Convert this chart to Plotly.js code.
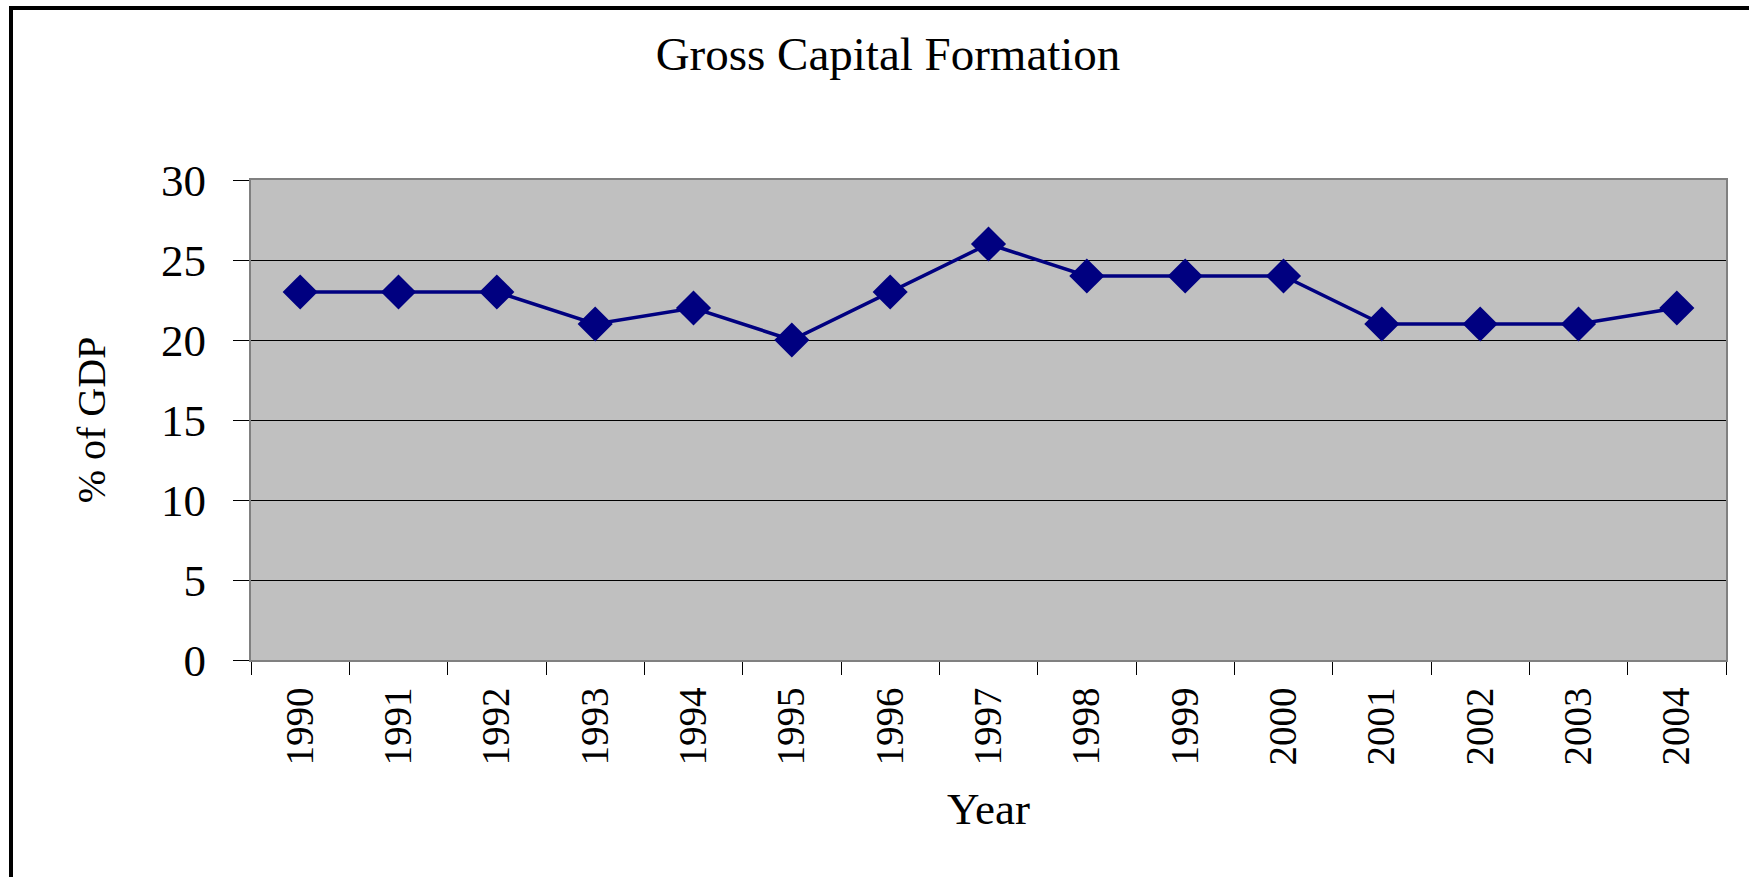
<!DOCTYPE html>
<html>
<head>
<meta charset="utf-8">
<script src="https://cdn.plot.ly/plotly-3.0.1.min.js"></script>
<style>
  html, body { margin: 0; padding: 0; background: #ffffff; }
  #chart { width: 1749px; height: 877px; }
</style>
</head>
<body>
<div id="chart"></div>
<script>
const years = ["1990","1991","1992","1993","1994","1995","1996","1997","1998","1999","2000","2001","2002","2003","2004"];
const gcfPercentGDP = [23, 23, 23, 21, 22, 20, 23, 26, 24, 24, 24, 21, 21, 21, 22];
const yTickValues = [0, 5, 10, 15, 20, 25, 30];

const serif = '"Liberation Serif", "Times New Roman", Times, serif';

const L = 251, R = 1726, T = 180, B = 660, W = 1749, H = 877;
const pw = R - L, ph = B - T;
const px = v => (v - L) / pw;
const py = v => (B - v) / ph;

const trace = {
  type: 'scatter',
  mode: 'lines+markers',
  x: years,
  y: gcfPercentGDP,
  line: { color: '#000080', width: 3.5 },
  marker: { symbol: 'diamond', size: 27, color: '#000080' },
  hoverinfo: 'x+y',
  showlegend: false
};

const layout = {
  width: W,
  height: H,
  margin: { l: L, r: W - R, t: T, b: H - B, pad: 0 },
  paper_bgcolor: '#ffffff',
  plot_bgcolor: '#c0c0c0',
  font: { family: serif, color: '#000000' },
  title: {
    text: 'Gross Capital Formation',
    font: { family: serif, size: 47, color: '#000000' },
    x: 888 / W, xanchor: 'center', xref: 'container',
    y: 1 - 54 / H, yanchor: 'middle', yref: 'container'
  },
  xaxis: {
    type: 'category',
    range: [-0.5, years.length - 0.5],
    tickson: 'boundaries',
    ticks: 'outside', ticklen: 13, tickwidth: 1, tickcolor: '#000000',
    tickangle: -90,
    ticklabelstandoff: 10,
    tickfont: { family: serif, size: 39, color: '#000000' },
    showgrid: false,
    showline: true, linecolor: '#808080', linewidth: 2, mirror: true,
    zeroline: false,
    automargin: false,
    title: { text: 'Year', font: { family: serif, size: 45, color: '#000000' }, standoff: 28 }
  },
  yaxis: {
    range: [0, 30],
    tickvals: yTickValues,
    ticktext: yTickValues.map(String),
    ticks: 'outside', ticklen: 16, tickwidth: 1, tickcolor: '#000000',
    ticklabelstandoff: 18,
    tickfont: { family: serif, size: 45, color: '#000000' },
    showgrid: true, gridcolor: '#000000', gridwidth: 1,
    showline: true, linecolor: '#808080', linewidth: 2, mirror: true,
    zeroline: false,
    automargin: false,
    title: { text: '% of GDP', font: { family: serif, size: 40, color: '#000000' }, standoff: 43 }
  },
  shapes: [
    { type: 'line', xref: 'paper', yref: 'paper', x0: px(11), x1: px(11), y0: py(6), y1: py(H + 5), line: { color: '#000000', width: 4 } },
    { type: 'line', xref: 'paper', yref: 'paper', x0: px(9), x1: px(W + 5), y0: py(8), y1: py(8), line: { color: '#000000', width: 4 } }
  ]
};

Plotly.newPlot('chart', [trace], layout, { displayModeBar: false });
</script>
</body>
</html>
